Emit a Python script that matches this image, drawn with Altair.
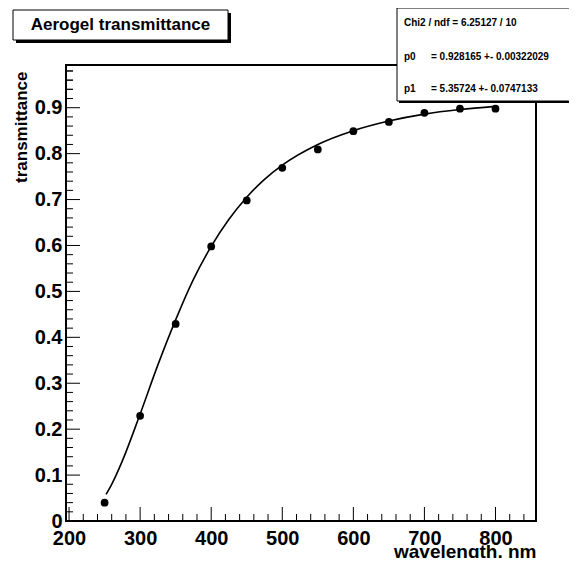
import altair as alt
import pandas as pd

# measured points
wavelength = [250, 300, 350, 400, 450, 500, 550, 600, 650, 700, 750, 800]
transmittance = [0.040, 0.229, 0.429, 0.598, 0.698, 0.769, 0.809, 0.849, 0.869, 0.889, 0.898, 0.898]

# fitted curve
curve_wl = [252, 260, 275, 300, 325, 350, 375, 400, 425, 450, 475, 500, 550, 600, 650, 700, 750, 800]
curve_t = [0.058, 0.080, 0.131, 0.233, 0.340, 0.438, 0.526, 0.598, 0.657, 0.705, 0.744, 0.775,
           0.820, 0.850, 0.871, 0.886, 0.896, 0.903]

x_labels = [200, 300, 400, 500, 600, 700, 800]
y_labels = [0, 0.1, 0.2, 0.3, 0.4, 0.5, 0.6, 0.7, 0.8, 0.9]
x_minor = [200 + 20 * i for i in range(33) if (200 + 20 * i) % 100 != 0]
y_minor = [round(0.02 * i, 2) for i in range(50) if i % 5 != 0]

title_text = "Aerogel transmittance"
stats_lines = ["Chi2 / ndf = 6.25127 / 10", "p0", "= 0.928165 +- 0.00322029", "p1", "= 5.35724 +- 0.0747133"]

FONT = "Liberation Sans"
W, H = 470, 456

xs = alt.Scale(domain=[195.7, 857], nice=False, zero=False)
ys = alt.Scale(domain=[0, 0.993], nice=False, zero=False)

pts = pd.DataFrame({"wl": wavelength, "t": transmittance})
crv = pd.DataFrame({"wl": curve_wl, "t": curve_t})

line = alt.Chart(crv).mark_line(color="black", strokeWidth=1.6, interpolate="monotone").encode(
    x=alt.X("wl:Q", scale=xs, axis=alt.Axis(values=x_labels, title="wavelength, nm",
                                            titleX=W, titleY=36.5, titleAlign="right",
                                            titleBaseline="alphabetic", titleAnchor="end",
                                            titleFontSize=19, labelPadding=7)),
    y=alt.Y("t:Q", scale=ys, axis=alt.Axis(values=y_labels, title="transmittance",
                                           labelExpr="datum.value == 0 ? '0' : format(datum.value, '.1f')",
                                           titleX=-40, titleY=6, titleAngle=270, titleAlign="right",
                                           titleBaseline="alphabetic", titleFontSize=17, labelPadding=4)),
)
points = alt.Chart(pts).mark_circle(color="black", opacity=1, size=60).encode(
    x=alt.X("wl:Q", scale=xs),
    y=alt.Y("t:Q", scale=ys),
)

ymaj = alt.Chart(pd.DataFrame({"t": y_labels})).mark_rule(color="black", strokeWidth=1).encode(
    y=alt.Y("t:Q", scale=ys), x=alt.value(0), x2=alt.value(14))
ymin = alt.Chart(pd.DataFrame({"t": y_minor + [0.92, 0.94, 0.96, 0.98]})).mark_rule(color="black", strokeWidth=1).encode(
    y=alt.Y("t:Q", scale=ys), x=alt.value(0), x2=alt.value(7))
xmaj = alt.Chart(pd.DataFrame({"wl": x_labels})).mark_rule(color="black", strokeWidth=1).encode(
    x=alt.X("wl:Q", scale=xs), y=alt.value(H), y2=alt.value(H - 14))
xmin = alt.Chart(pd.DataFrame({"wl": x_minor})).mark_rule(color="black", strokeWidth=1).encode(
    x=alt.X("wl:Q", scale=xs), y=alt.value(H), y2=alt.value(H - 7))

one = pd.DataFrame({"a": [0]})

# title box
tshadow = alt.Chart(one).mark_rect(color="black").encode(
    x=alt.value(-50), x2=alt.value(165), y=alt.value(-52), y2=alt.value(-22))
tbox = alt.Chart(one).mark_rect(fill="white", stroke="black", strokeWidth=1).encode(
    x=alt.value(-53), x2=alt.value(162), y=alt.value(-55), y2=alt.value(-25))
ttext = alt.Chart(one).mark_text(font=FONT, fontSize=17, fontWeight="bold", color="black",
                                 align="center", baseline="middle").encode(
    x=alt.value(54.5), y=alt.value(-40), text=alt.value(title_text))

# stats box
sshadow = alt.Chart(one).mark_rect(color="black").encode(
    x=alt.value(333), x2=alt.value(520), y=alt.value(-55), y2=alt.value(38))
sbox = alt.Chart(one).mark_rect(fill="white", stroke="black", strokeWidth=1).encode(
    x=alt.value(331), x2=alt.value(520), y=alt.value(-57), y2=alt.value(36))


def stxt(s, x, y):
    return alt.Chart(one).mark_text(font=FONT, fontSize=10, fontWeight="bold", color="black",
                                    align="left", baseline="middle").encode(
        x=alt.value(x), y=alt.value(y), text=alt.value(s))


stats = [stxt(stats_lines[0], 338, -42), stxt(stats_lines[1], 338, -8), stxt(stats_lines[2], 365, -8),
         stxt(stats_lines[3], 338, 24), stxt(stats_lines[4], 365, 24)]

chart = alt.layer(line, points, ymaj, ymin, xmaj, xmin, tshadow, tbox, ttext, sshadow, sbox, *stats).properties(
    width=W, height=H,
    autosize=alt.AutoSizeParams(type="none"),
    padding={"left": 58, "top": 57, "right": 33, "bottom": 37},
    background="white",
).configure_view(stroke="black", strokeWidth=2).configure_axis(
    domain=False, ticks=False, grid=False,
    labelFont=FONT, labelFontSize=20, labelFontWeight="bold", labelColor="black",
    titleFont=FONT, titleFontSize=20, titleFontWeight="bold", titleColor="black",
)

chart.save("out.html", embed_options={"renderer": "svg", "actions": False})
